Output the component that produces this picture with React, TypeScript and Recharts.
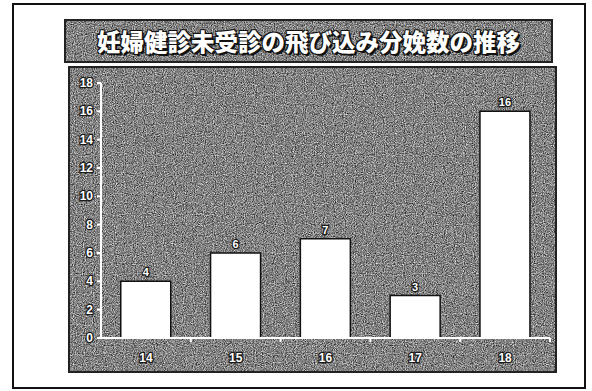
import React from 'react';
import { BarChart, Bar, XAxis, YAxis, LabelList } from 'recharts';

// Deliveries without prenatal check-ups, by year (Heisei)
const years = ['14', '15', '16', '17', '18'];
const counts = [4, 6, 7, 3, 16];
const yTicks = [0, 2, 4, 6, 8, 10, 12, 14, 16, 18];
const titleText = '妊婦健診未受診の飛び込み分娩数の推移';

const data = years.map((year, i) => ({ year, count: counts[i] }));

const OUTLINE = '#1a1a1a';
const LABEL_FONT = '"Liberation Sans", Arial, sans-serif';

const outlinedText = {
  fill: '#ffffff',
  stroke: OUTLINE,
  strokeWidth: 2.5,
  paintOrder: 'stroke' as const,
  fontFamily: LABEL_FONT,
  fontWeight: 700,
  fontSize: 12,
};

// X tick: year label plus a short tick at the right edge of each category band
const XTick = (props: any) => {
  const { x, y, payload, width, visibleTicksCount } = props;
  const half = width / visibleTicksCount / 2;
  return (
    <g>
      <line x1={x + half} x2={x + half} y1={y - 4} y2={y} stroke="#ffffff" strokeWidth={2} />
      <text x={x} y={y + 16} textAnchor="middle" dominantBaseline="central" {...outlinedText}>
        {payload.value}
      </text>
    </g>
  );
};

const YTick = (props: any) => {
  const { x, y, payload } = props;
  return (
    <text x={x} y={y} textAnchor="end" dominantBaseline="central" {...outlinedText}>
      {payload.value}
    </text>
  );
};

const BarValue = (props: any) => {
  const { x, y, width, value } = props;
  return (
    <text
      x={x + width / 2}
      y={y - 9}
      textAnchor="middle"
      dominantBaseline="central"
      {...outlinedText}
      fontSize={11}
    >
      {value}
    </text>
  );
};

// Grainy gray fill used for the title banner and the chart panel
const Backdrop = () => (
  <svg width={592} height={391} style={{ position: 'absolute', left: 0, top: 0 }}>
    <defs>
      <filter id="grain" x="0" y="0" width="100%" height="100%" colorInterpolationFilters="sRGB">
        <feTurbulence type="fractalNoise" baseFrequency="0.9" numOctaves={2} seed={7} />
        <feColorMatrix type="saturate" values="0" />
        <feComponentTransfer>
          <feFuncR type="linear" slope={1.5} intercept={-0.24} />
          <feFuncG type="linear" slope={1.5} intercept={-0.24} />
          <feFuncB type="linear" slope={1.5} intercept={-0.24} />
          <feFuncA type="linear" slope={0} intercept={1} />
        </feComponentTransfer>
        <feComposite operator="in" in2="SourceGraphic" />
      </filter>
    </defs>
    {/* page frame */}
    <rect x={13} y={4} width={572} height={384} fill="#ffffff" stroke="#111" strokeWidth={2} />
    {/* title banner */}
    <rect x={65} y={20} width={487} height={42} fill="#777" filter="url(#grain)" />
    <rect x={65} y={20} width={487} height={42} fill="none" stroke="#222" strokeWidth={2} />
    {/* chart panel */}
    <rect x={69} y={67} width={487} height={305} fill="#777" filter="url(#grain)" />
    <rect x={69} y={67} width={487} height={305} fill="none" stroke="#222" strokeWidth={2} />
  </svg>
);

export default function App() {
  return (
    <div
      style={{
        position: 'fixed',
        left: 0,
        top: 0,
        width: 592,
        height: 391,
        background: '#ffffff',
        overflow: 'hidden',
      }}
    >
      <Backdrop />
      <div
        style={{
          position: 'absolute',
          left: 64,
          top: 19,
          width: 489,
          height: 44,
          display: 'flex',
          alignItems: 'center',
          justifyContent: 'center',
          color: '#ffffff',
          fontFamily: '"Noto Sans CJK JP", sans-serif',
          fontWeight: 900,
          fontSize: 23.5,
          textShadow:
            '1px 1px 0 #111, -1px -1px 0 #111, 1px -1px 0 #111, -1px 1px 0 #111, 2px 2px 0 #111',
        }}
      >
        {titleText}
      </div>
      <div style={{ position: 'absolute', left: 0, top: 0 }}>
        <BarChart
          width={592}
          height={391}
          data={data}
          margin={{ top: 83, right: 42, bottom: 23, left: 61 }}
          barCategoryGap="22%"
        >
          <XAxis
            dataKey="year"
            height={30}
            axisLine={{ stroke: '#ffffff', strokeWidth: 2 }}
            tickLine={false}
            tickSize={4}
            tickMargin={0}
            tick={<XTick />}
            interval={0}
          />
          <YAxis
            width={40}
            domain={[0, 18]}
            ticks={yTicks}
            interval={0}
            axisLine={{ stroke: '#ffffff', strokeWidth: 2 }}
            tickLine={{ stroke: '#ffffff', strokeWidth: 2 }}
            tickSize={4}
            tickMargin={4}
            tick={<YTick />}
          />
          <Bar dataKey="count" fill="#ffffff" stroke="#111" strokeWidth={1.5} isAnimationActive={false}>
            <LabelList dataKey="count" content={<BarValue />} />
          </Bar>
        </BarChart>
      </div>
    </div>
  );
}
